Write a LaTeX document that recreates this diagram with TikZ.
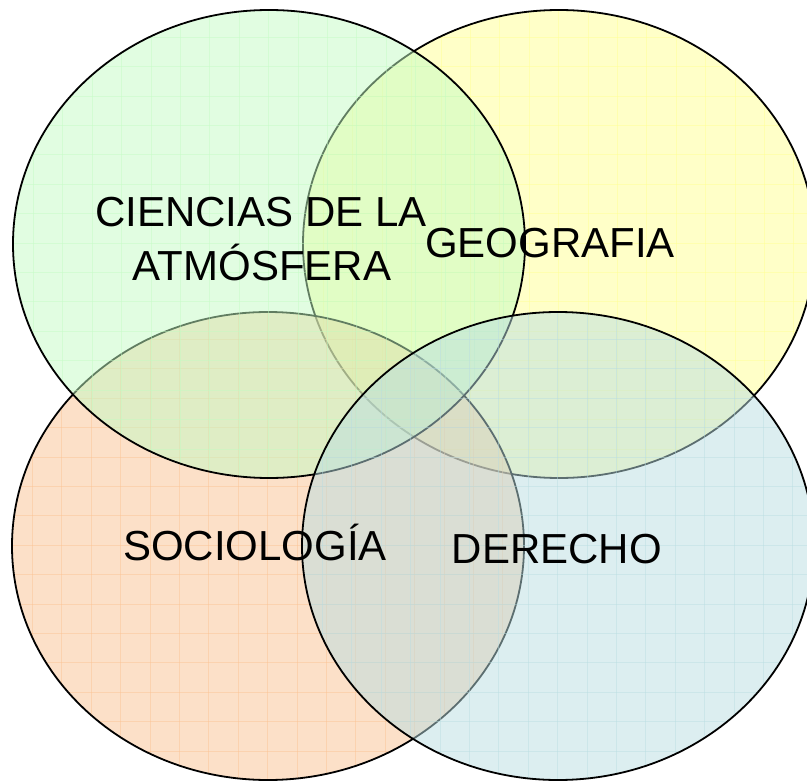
\documentclass[tikz,border=0pt]{standalone}
\usepackage{fontspec}
\setmainfont{Liberation Sans}
\definecolor{cgreen}{RGB}{195,251,195}
\definecolor{cyellow}{RGB}{255,255,145}
\definecolor{corange}{RGB}{250,193,145}
\definecolor{cblue}{RGB}{185,221,225}
\tikzset{
  vennline/.style={draw=black, line width=1.8pt},
  venngrid/.style={opacity=0.45, line width=1pt},
  vennlabel/.style={font=\fontsize{42}{50}\selectfont, inner sep=0pt, anchor=base, text=black},
}
\newcommand{\vennset}[3]{%
  \fill[#3, fill opacity=0.5] (#1,#2) ellipse [x radius=256pt, y radius=234pt];
  \begin{scope}
    \clip (#1,#2) ellipse [x radius=256pt, y radius=234pt];
    \foreach \k in {0,...,18}{
      \draw[#3, venngrid] (#1-265+\k*29.4,#2-240) -- (#1-265+\k*29.4,#2+240);
    }
    \foreach \k in {0,...,16}{
      \draw[#3, venngrid] (#1-260,#2-236+\k*29.4) -- (#1+260,#2-236+\k*29.4);
    }
  \end{scope}
  \draw[vennline] (#1,#2) ellipse [x radius=256pt, y radius=234pt];
}
\begin{document}
\begin{tikzpicture}[x=1pt,y=-1pt]
\useasboundingbox (0,0) rectangle (807,781);
\vennset{559}{244}{cyellow}
\vennset{268}{546}{corange}
\vennset{269}{244}{cgreen}
\vennset{558}{546}{cblue}
\node[vennlabel] (cien) at (261,227) {CIENCIAS DE LA};
\node[vennlabel] (atm) at (262,280) {ATMÓSFERA};
\node[vennlabel] (geo) at (550,258) {GEOGRAFIA};
\node[vennlabel] (soc) at (255,560) {SOCIOLOGÍA};
\node[vennlabel] (der) at (557,563) {DERECHO};
\end{tikzpicture}
\end{document}
